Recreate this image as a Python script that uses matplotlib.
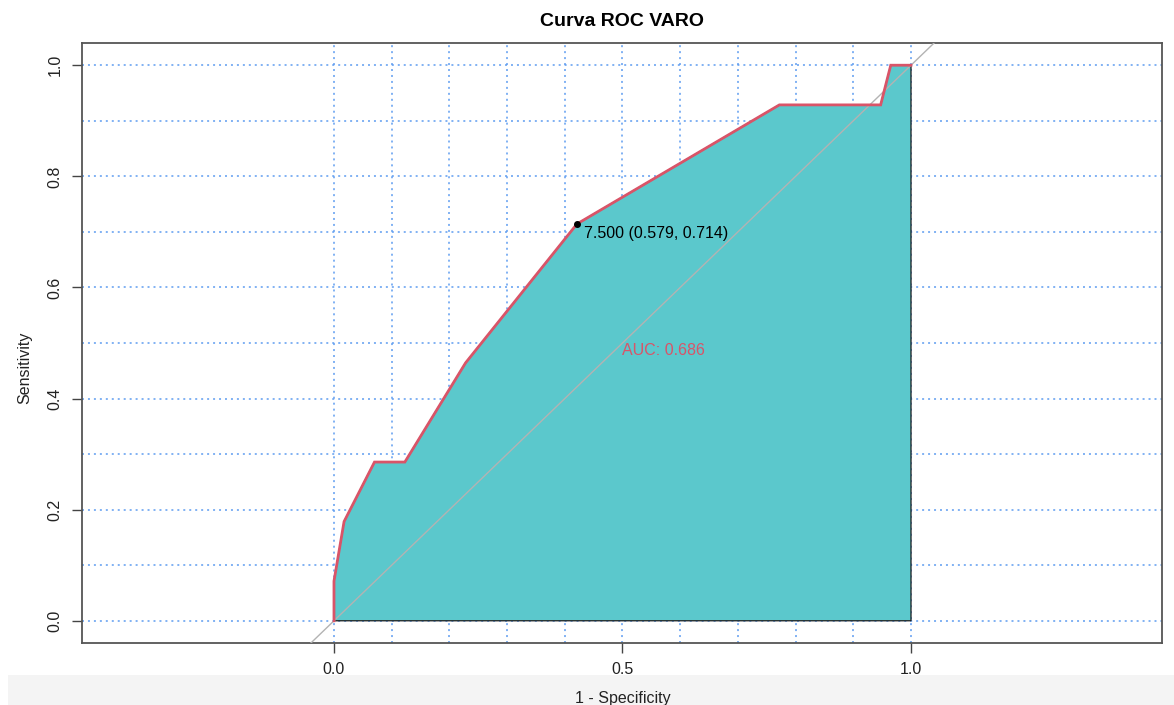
import matplotlib
matplotlib.use("Agg")
import matplotlib.pyplot as plt
from matplotlib.patches import Polygon, Rectangle

plt.rcParams['font.family'] = ['Liberation Sans', 'DejaVu Sans']

# ROC curve (1 - specificity, sensitivity)
fpr = [0.0, 0.0, 0.0175, 0.0702, 0.1228, 0.2281, 0.4211, 0.7719, 0.9474, 0.9649, 1.0]
tpr = [0.0, 0.0714, 0.1786, 0.2857, 0.2857, 0.4643, 0.7143, 0.9286, 0.9286, 1.0, 1.0]
auc_value = 0.686
thr_value = 7.5
thr_spec = 0.579
thr_sens = 0.714
title = "Curva ROC VARO"
xticks = [0.0, 0.5, 1.0]
yticks = [0.0, 0.2, 0.4, 0.6, 0.8, 1.0]
grid_pos = [i / 10 for i in range(11)]

W, H = 1174, 705
fig = plt.figure(figsize=(W / 100, H / 100), dpi=100)
fig.patch.set_facecolor('white')

# bottom light-grey band (screenshot strip)
band = Rectangle((8 / W, 0), 1, 30 / H, transform=fig.transFigure,
                 facecolor='#f4f4f4', edgecolor='none', zorder=-5)
fig.patches.append(band)

ax = fig.add_axes([82 / W, (H - 643) / H, (1162 - 82) / W, (643 - 43) / H])
ax.set_zorder(2)
ax.set_xlim(-0.4367, 1.4350)
ax.set_ylim(-0.04, 1.04)
ax.patch.set_alpha(0)

grid_col = '#5e9cf0'
ls = (0, (1.3, 2.6))
for g in grid_pos:
    ax.axhline(g, color=grid_col, lw=1.1, ls=ls, zorder=1)
    ax.axvline(g, color=grid_col, lw=1.1, ls=ls, zorder=1)

# filled area under curve
poly_pts = list(zip(fpr, tpr)) + [(1.0, 0.0), (0.0, 0.0)]
ax.add_patch(Polygon(poly_pts, closed=True, facecolor='#5bc8cc',
                     edgecolor='#1a1a1a', lw=0.9, zorder=2))

# identity line
ax.axline((0, 0), (1, 1), color='#b3b3b3', lw=1.0, zorder=3)

# ROC curve
ax.plot(fpr, tpr, color='#d95468', lw=2.0, zorder=4, solid_joinstyle='miter')

# threshold point
ax.plot([1 - thr_spec], [thr_sens], 'o', color='black', ms=4, zorder=5)
ax.annotate(f"{thr_value:.3f} ({thr_spec:.3f}, {thr_sens:.3f})",
            xy=(1 - thr_spec, thr_sens), xytext=(5, -1.5), textcoords='offset points',
            ha='left', va='top', fontsize=11.5, color='black', zorder=6)

# AUC text
ax.text(0.5, 0.5, f"AUC: {auc_value:.3f}", ha='left', va='top',
        fontsize=11.5, color='#d95468', zorder=6)

for s in ax.spines.values():
    s.set_color('#555555')
    s.set_linewidth(1.3)

ax.set_xticks(xticks)
ax.set_xticklabels([f"{t:.1f}" for t in xticks])
ax.set_yticks(yticks)
ax.set_yticklabels([f"{t:.1f}" for t in yticks], rotation=90, va='center')
ax.tick_params(axis='both', direction='out', length=7, width=1, color='#444444',
               labelsize=11.5, labelcolor='#222222')
ax.tick_params(axis='x', pad=7)
ax.tick_params(axis='y', pad=7)

fig.text((82 + 1162) / 2 / W, 1 - 22 / H, title, ha='center', va='center',
         fontsize=14, fontweight='bold')
fig.text(25 / W, 1 - 368 / H, "Sensitivity", rotation=90, ha='center',
         va='center', fontsize=11.5, color='#222222')
fig.text(623 / W, 1 - 698 / H, "1 - Specificity", ha='center', va='center',
         fontsize=11.5, color='#222222')

fig.savefig('out.png', dpi=100)
